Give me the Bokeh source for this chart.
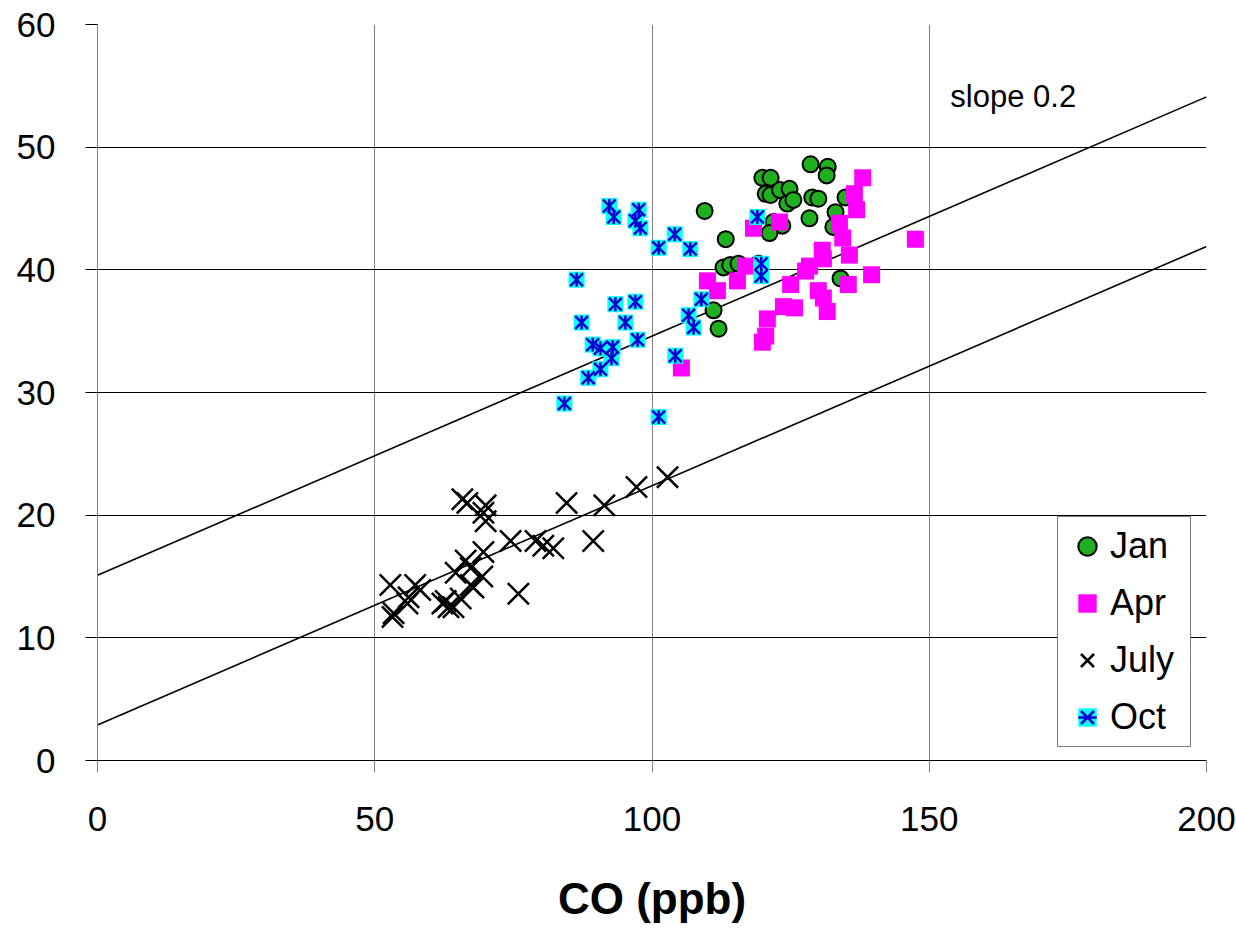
from bokeh.plotting import figure
from bokeh.models import Range1d, Legend, LegendItem, Label, FixedTicker
from bokeh.embed import file_html
from bokeh.resources import INLINE
import numpy as np

# ---------------- data ----------------
jan_x = [109.5, 113.3, 128.6, 131.7, 131.5, 119.9, 121.4, 120.5, 121.4, 123.1, 124.8, 124.4, 125.5, 128.9, 130.0,
         128.4, 133.1, 132.7, 134.9, 121.9, 123.5, 121.2, 112.9, 114.1, 115.6, 119.2, 134.0, 111.1, 112.0]
jan_y = [44.8, 42.5, 48.6, 48.4, 47.7, 47.5, 47.5, 46.2, 46.1, 46.5, 46.6, 45.4, 45.7, 45.9, 45.8,
         44.2, 44.7, 43.5, 45.9, 43.9, 43.6, 43.0, 40.2, 40.4, 40.5, 40.5, 39.3, 36.7, 35.2]

apr_x = [138.0, 136.5, 136.9, 123.0, 118.3, 133.8, 134.4, 147.5, 135.6, 130.7, 130.9, 128.4, 127.7, 116.9, 110.0,
         111.8, 115.4, 125.0, 130.0, 130.9, 131.6, 139.6, 135.4, 123.7, 125.7, 120.8, 120.5, 119.9, 105.3]
apr_y = [47.5, 46.2, 44.9, 43.9, 43.4, 43.8, 42.6, 42.5, 41.2, 41.6, 40.9, 40.3, 39.9, 40.3, 39.1,
         38.3, 39.1, 38.8, 38.3, 37.7, 36.6, 39.6, 38.8, 37.0, 36.9, 36.0, 34.6, 34.1, 32.0]

jul_x = [65.8, 66.7, 70.0, 69.6, 70.0, 84.6, 91.4, 97.2, 102.8, 74.5, 79.0, 80.4, 82.2, 89.4, 69.6, 66.4, 67.3,
         64.6, 69.4, 67.3, 67.8, 75.9, 52.8, 57.3, 58.2, 56.1, 65.5, 62.8, 63.3, 62.2, 53.4, 53.2, 55.9, 64.2]
jul_y = [21.3, 21.0, 20.8, 20.2, 19.5, 21.0, 20.8, 22.3, 23.1, 17.9, 17.9, 17.5, 17.3, 17.9, 17.0, 16.3, 15.7,
         15.3, 15.0, 14.3, 14.1, 13.6, 14.3, 14.3, 13.9, 13.3, 13.2, 13.0, 12.5, 12.8, 12.0, 11.7, 12.8, 12.5]

oct_x = [92.3, 93.1, 97.6, 97.0, 97.9, 101.2, 104.1, 106.9, 86.4, 93.4, 97.0, 87.3, 95.2, 108.9, 106.6,
         107.5, 97.4, 89.3, 92.9, 90.7, 92.7, 90.7, 88.5, 104.2, 84.2, 101.2, 119.0, 119.7, 119.7]
oct_y = [45.2, 44.3, 44.9, 44.0, 43.4, 41.8, 42.9, 41.7, 39.2, 37.2, 37.4, 35.7, 35.7, 37.6, 36.3,
         35.3, 34.3, 33.9, 33.7, 33.6, 32.8, 31.9, 31.2, 33.0, 29.1, 28.0, 44.3, 40.5, 39.5]

line_slope = 0.195
line_intercepts = [15.1, 2.9]
line_x = [0, 200]

x_ticks = [0, 50, 100, 150, 200]
y_ticks = [0, 10, 20, 30, 40, 50, 60]

FONT = "Liberation Sans"

p = figure(width=1236, height=931, output_backend="svg", toolbar_location=None,
           x_range=Range1d(0, 200), y_range=Range1d(0, 60),
           min_border_left=97, min_border_right=30, min_border_top=24, min_border_bottom=171)
p.outline_line_color = None
p.background_fill_color = "white"
p.border_fill_color = "white"

# grid
p.xgrid.ticker = FixedTicker(ticks=x_ticks)
p.ygrid.ticker = FixedTicker(ticks=y_ticks)
p.xgrid.grid_line_color = "#808080"
p.ygrid.grid_line_color = "black"
p.xgrid.grid_line_width = 1
p.ygrid.grid_line_width = 1

# axes
p.xaxis.ticker = FixedTicker(ticks=x_ticks)
p.yaxis.ticker = FixedTicker(ticks=y_ticks)
p.xaxis.axis_line_color = "black"
p.yaxis.axis_line_color = "#808080"
p.xaxis.major_tick_line_color = "#808080"
p.yaxis.major_tick_line_color = "black"
for ax in (p.xaxis, p.yaxis):
    ax.major_tick_out = 12
    ax.major_tick_in = 0
    ax.minor_tick_line_color = None
    ax.major_label_text_font = FONT
    ax.major_label_text_font_size = "35px"
    ax.major_label_text_color = "black"
p.yaxis.major_label_standoff = 30
p.xaxis.major_label_standoff = 34
p.xaxis.axis_label = "CO (ppb)"
p.xaxis.axis_label_text_font = FONT
p.xaxis.axis_label_text_font_size = "44px"
p.xaxis.axis_label_text_font_style = "bold"
p.xaxis.axis_label_text_color = "black"
p.xaxis.axis_label_standoff = 40

# reference lines
for b in line_intercepts:
    ys = [b + line_slope * x for x in line_x]
    p.line(line_x, ys, line_color="black", line_width=1.6)

# series
r_jan = p.scatter(jan_x, jan_y, marker="circle", size=16, fill_color="#1faf1f",
                  line_color="black", line_width=2)
r_apr = p.scatter(apr_x, apr_y, marker="square", size=17, fill_color="#ff00ff",
                  line_color=None)
r_jul = p.scatter(jul_x, jul_y, marker="x", size=30, line_color="black", line_width=2.5)
r_oct_sq = p.scatter(oct_x, oct_y, marker="square", size=16, fill_color="#00ffff", line_color=None)
r_oct_x = p.scatter(oct_x, oct_y, marker="x", size=18, line_color="#0000d0", line_width=2.5)
r_oct_v = p.scatter(oct_x, oct_y, marker="dash", size=14, angle=np.pi / 2,
                    line_color="#0000d0", line_width=2.5)

p.add_layout(Label(x=153.8, y=54.1, text="slope 0.2", text_font=FONT, text_font_size="31px",
                   text_color="black", text_baseline="alphabetic"))

legend = Legend(items=[
    LegendItem(label="Jan", renderers=[r_jan]),
    LegendItem(label="Apr", renderers=[r_apr]),
    LegendItem(label="July", renderers=[r_jul]),
    LegendItem(label="Oct", renderers=[r_oct_sq, r_oct_x, r_oct_v]),
], location=(960, 13), margin=0, padding=6, spacing=11,
    glyph_width=46, glyph_height=46, label_standoff=0, label_width=74,
    label_text_font=FONT, label_text_font_size="36px", label_text_color="black",
    border_line_color="black", border_line_width=1, background_fill_color="white",
    background_fill_alpha=1.0)
p.add_layout(legend)

open("out.html", "w").write(file_html(p, INLINE))
